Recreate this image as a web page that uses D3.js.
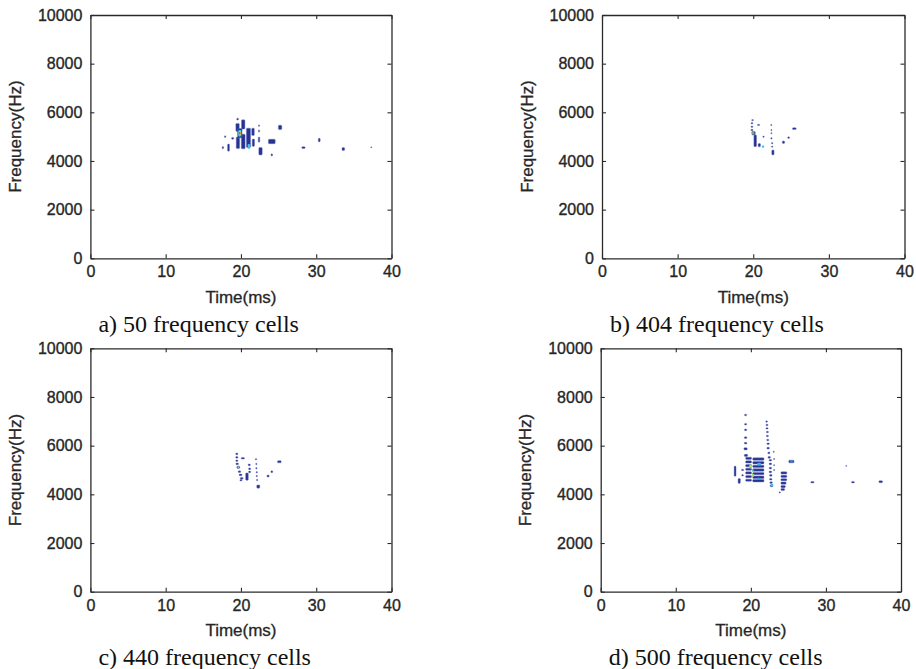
<!DOCTYPE html>
<html>
<head>
<meta charset="utf-8">
<script src="https://cdn.jsdelivr.net/npm/d3@7"></script>
<style>
  html, body { margin: 0; padding: 0; background: #fff; }
  svg { display: block; }
</style>
</head>
<body>
<svg id="chart" width="916" height="669"></svg>
<script>
// ---------------- data ----------------
const xTickValues = [0, 10, 20, 30, 40];
const yTickValues = [0, 2000, 4000, 6000, 8000, 10000];
const timeDomain = [0, 40];          // ms
const freqDomain = [0, 10000];       // Hz
const xLabel = "Time(ms)";
const yLabel = "Frequency(Hz)";
const captions = [
  "a) 50 frequency cells",
  "b) 404 frequency cells",
  "c) 440 frequency cells",
  "d) 500 frequency cells"
];

// spectrogram cells: [time ms, frequency Hz, duration ms, bandwidth Hz, level 0..1]
const cellsA = [
  [19.56, 5720, 0.25, 80, 0],
  [19.55, 5380, 0.45, 330, 0], [19.6, 4750, 0.45, 480, 0],
  [20.3, 5500, 0.45, 380, 0], [20.3, 4800, 0.5, 600, 0],
  [21.0, 4950, 0.55, 800, 0],
  [19.85, 5140, 0.6, 380, 0], [19.85, 5140, 0.42, 260, 0.35], [19.85, 5140, 0.28, 170, 0.62], [19.85, 5140, 0.16, 100, 0.95],
  [21.05, 4600, 0.32, 200, 0.35],
  [21.6, 5200, 0.35, 300, 0], [21.65, 4750, 0.3, 300, 0],
  [22.4, 5450, 0.15, 70, 0], [22.4, 5230, 0.15, 100, 0], [22.4, 4880, 0.2, 220, 0],
  [22.6, 4400, 0.45, 300, 0], [24.1, 4800, 0.9, 180, 0], [24.1, 4250, 0.2, 100, 0],
  [25.2, 5380, 0.45, 180, 0], [17.9, 5000, 0.2, 80, 0], [18.9, 4930, 0.3, 80, 0],
  [17.6, 4550, 0.2, 100, 0], [18.35, 4550, 0.25, 300, 0], [28.3, 4550, 0.45, 70, 0],
  [30.4, 4860, 0.25, 150, 0], [33.6, 4490, 0.35, 120, 0], [37.3, 4560, 0.12, 60, 0]
];
const cellsB = [
  [19.91, 5680, 0.25, 60, 0], [19.83, 5550, 0.25, 60, 0], [19.83, 5410, 0.25, 60, 0],
  [19.83, 5270, 0.3, 60, 0], [20.04, 5140, 0.45, 150, 0], [20.0, 5140, 0.3, 110, 0.5],
  [20.0, 5150, 0.18, 70, 0.9], [20.26, 4830, 0.35, 480, 0], [20.7, 5480, 0.3, 50, 0],
  [20.8, 4650, 0.3, 140, 0], [21.3, 4590, 0.3, 90, 0.35], [21.36, 5000, 0.2, 60, 0],
  [22.38, 5480, 0.15, 60, 0], [22.4, 5270, 0.15, 60, 0], [22.4, 5140, 0.15, 60, 0],
  [22.4, 4930, 0.2, 60, 0], [22.5, 4730, 0.2, 60, 0], [22.5, 4590, 0.2, 60, 0],
  [22.6, 4350, 0.3, 200, 0], [24.0, 4770, 0.3, 100, 0], [24.68, 4960, 0.25, 70, 0],
  [25.43, 5330, 0.5, 70, 0]
];
const cellsC = [
  [19.45, 5660, 0.3, 70, 0], [19.45, 5520, 0.3, 70, 0], [19.45, 5380, 0.3, 70, 0],
  [19.5, 5250, 0.35, 70, 0], [19.65, 5110, 0.4, 90, 0], [19.65, 5110, 0.25, 70, 0.55],
  [19.8, 4930, 0.35, 70, 0], [19.95, 4800, 0.4, 70, 0], [20.1, 4660, 0.4, 70, 0],
  [20.0, 4580, 0.3, 60, 0], [20.25, 5480, 0.45, 60, 0], [20.8, 4730, 0.35, 300, 0],
  [21.1, 5210, 0.3, 70, 0], [21.15, 5050, 0.3, 70, 0], [21.15, 4920, 0.3, 70, 0],
  [22.0, 5440, 0.2, 60, 0], [22.05, 5250, 0.2, 60, 0], [22.05, 5070, 0.2, 60, 0],
  [22.1, 4910, 0.2, 60, 0], [22.1, 4750, 0.2, 60, 0], [22.15, 4590, 0.2, 60, 0],
  [22.3, 4320, 0.4, 130, 0], [23.6, 4750, 0.3, 80, 0], [24.1, 4930, 0.25, 80, 0],
  [25.1, 5340, 0.5, 90, 0]
];
const cellsD = [
  [19.3, 7260, 0.3, 70, 0], [19.3, 6880, 0.3, 70, 0], [19.3, 6650, 0.3, 70, 0],
  [19.3, 6330, 0.35, 70, 0], [19.3, 6100, 0.35, 70, 0], [19.3, 5870, 0.45, 90, 0],
  [19.35, 5600, 0.45, 90, 0],
  [22.1, 6990, 0.25, 60, 0], [22.15, 6850, 0.3, 60, 0], [22.15, 6710, 0.3, 60, 0],
  [22.2, 6560, 0.3, 60, 0], [22.2, 6400, 0.3, 60, 0], [22.25, 6230, 0.3, 60, 0],
  [22.3, 6080, 0.35, 60, 0], [22.3, 5900, 0.35, 70, 0], [22.4, 5700, 0.3, 70, 0],
  [22.45, 5520, 0.35, 70, 0],
  [17.9, 4950, 0.25, 420, 0], [18.45, 4550, 0.3, 200, 0], [18.9, 5000, 0.3, 60, 0],
  [18.9, 4780, 0.25, 60, 0],
  [19.7, 5480, 0.8, 90, 0], [19.7, 5330, 0.8, 90, 0], [19.7, 5180, 0.8, 90, 0],
  [19.7, 5030, 0.8, 90, 0], [19.7, 4880, 0.8, 90, 0], [19.7, 4730, 0.8, 90, 0],
  [19.7, 4580, 0.8, 90, 0],
  [21.0, 5450, 1.5, 100, 0], [21.0, 5300, 1.5, 100, 0], [21.0, 5150, 1.5, 100, 0],
  [21.0, 5000, 1.5, 100, 0], [21.0, 4850, 1.5, 100, 0], [21.0, 4700, 1.5, 100, 0],
  [21.0, 4560, 1.5, 100, 0],
  [19.95, 5150, 0.35, 150, 0.45], [20.0, 5150, 0.2, 90, 0.62], [20.3, 4780, 0.3, 120, 0.55],
  [20.25, 4980, 0.25, 100, 0.4], [21.1, 5250, 0.5, 100, 0.33], [21.0, 4650, 0.3, 80, 0.3],
  [22.6, 5400, 0.35, 70, 0], [22.6, 5250, 0.35, 70, 0], [22.6, 5080, 0.35, 70, 0],
  [22.6, 4920, 0.35, 70, 0], [22.65, 4780, 0.35, 70, 0], [22.65, 4620, 0.35, 70, 0],
  [22.7, 4480, 0.35, 70, 0], [22.75, 4350, 0.4, 70, 0], [22.8, 4380, 0.4, 80, 0.35],
  [23.05, 5750, 0.15, 60, 0], [23.1, 5450, 0.15, 60, 0], [23.1, 5200, 0.15, 60, 0],
  [23.1, 5000, 0.15, 60, 0],
  [24.4, 4880, 0.8, 90, 0], [24.4, 4740, 0.8, 90, 0], [24.4, 4600, 0.8, 90, 0],
  [24.35, 4460, 0.7, 90, 0], [24.3, 4320, 0.6, 90, 0], [24.25, 4200, 0.5, 80, 0],
  [23.85, 4080, 0.2, 60, 0],
  [25.4, 5350, 0.7, 110, 0], [25.4, 5370, 0.45, 70, 0.3],
  [28.2, 4500, 0.45, 60, 0], [32.7, 5170, 0.12, 60, 0], [33.6, 4500, 0.4, 60, 0],
  [37.3, 4520, 0.5, 80, 0]
];
const panelCells = [cellsA, cellsB, cellsC, cellsD];

// ---------------- layout ----------------
const frames = [
  { x0: 90.4,  x1: 391.5, y0: 15,    y1: 258.3 },
  { x0: 602,   x1: 904.5, y0: 15,    y1: 258.3 },
  { x0: 90.4,  x1: 391.5, y0: 348.3, y1: 591.7 },
  { x0: 600.7, x1: 901,   y0: 348.3, y1: 591.7 }
];

const colour = d3.scaleLinear()
  .domain([0, 0.2, 0.35, 0.5, 0.65, 0.85, 1])
  .range(["#26328f", "#2050c8", "#38c4e6", "#86dc6a", "#f2e23a", "#ee5a26", "#b81e1e"]);

const svg = d3.select("#chart");
svg.append("rect").attr("width", 916).attr("height", 669).attr("fill", "#fff");

const sansFont = "'Liberation Sans', Arial, sans-serif";
const serifFont = "'Liberation Serif', 'Times New Roman', serif";
const textInk = "#262626";

frames.forEach((fr, i) => {
  const x = d3.scaleLinear().domain(timeDomain).range([fr.x0, fr.x1]);
  const y = d3.scaleLinear().domain(freqDomain).range([fr.y1, fr.y0]);
  const g = svg.append("g");

  // cells
  const cells = panelCells[i].slice().sort((a, b) => a[4] - b[4]);
  g.append("g").selectAll("rect").data(cells).join("rect")
    .attr("x", d => x(d[0] - d[2] / 2))
    .attr("width", d => Math.max(1, x(d[0] + d[2] / 2) - x(d[0] - d[2] / 2)))
    .attr("y", d => y(d[1] + d[3] / 2))
    .attr("height", d => Math.max(1, y(d[1] - d[3] / 2) - y(d[1] + d[3] / 2)))
    .attr("rx", 0.8)
    .attr("fill", d => colour(d[4]))
    .attr("stroke", d => d[4] === 0 ? "#6a74c2" : "none")
    .attr("stroke-width", 0.6)
    .attr("stroke-opacity", 0.7);

  const styleAxis = sel => {
    sel.select(".domain").attr("stroke", "#2a2a2a").attr("stroke-width", 1.3);
    sel.selectAll(".tick line").attr("stroke", "#2a2a2a").attr("stroke-width", 1.1);
    sel.selectAll("text").attr("font-family", sansFont).attr("font-size", 16)
      .attr("fill", textInk).attr("stroke", textInk).attr("stroke-width", 0.35);
  };

  // bottom axis
  g.append("g").attr("transform", `translate(0,${fr.y1})`)
    .call(d3.axisBottom(x).tickValues(xTickValues).tickFormat(d3.format("d"))
      .tickSizeInner(-4).tickSizeOuter(0).tickPadding(7.5))
    .call(styleAxis);
  // top axis (ticks only)
  g.append("g").attr("transform", `translate(0,${fr.y0})`)
    .call(d3.axisTop(x).tickValues(xTickValues).tickSizeInner(-4).tickSizeOuter(0).tickFormat(""))
    .call(styleAxis);
  // left axis
  g.append("g").attr("transform", `translate(${fr.x0},0)`)
    .call(d3.axisLeft(y).tickValues(yTickValues).tickFormat(d3.format("d"))
      .tickSizeInner(-4).tickSizeOuter(0).tickPadding(8))
    .call(styleAxis);
  // right axis (ticks only)
  g.append("g").attr("transform", `translate(${fr.x1},0)`)
    .call(d3.axisRight(y).tickValues(yTickValues).tickSizeInner(-4).tickSizeOuter(0).tickFormat(""))
    .call(styleAxis);

  // axis titles
  g.append("text")
    .attr("x", (fr.x0 + fr.x1) / 2).attr("y", fr.y1 + 44.7)
    .attr("text-anchor", "middle")
    .attr("font-family", sansFont).attr("font-size", 17)
    .attr("fill", textInk).attr("stroke", textInk).attr("stroke-width", 0.3)
    .text(xLabel);
  g.append("text")
    .attr("transform", `translate(${fr.x0 - 69.4},${(fr.y0 + fr.y1) / 2}) rotate(-90)`)
    .attr("text-anchor", "middle")
    .attr("font-family", sansFont).attr("font-size", 17)
    .attr("fill", textInk).attr("stroke", textInk).attr("stroke-width", 0.3)
    .text(yLabel);

  // caption
  g.append("text")
    .attr("x", fr.x0 + 8).attr("y", fr.y1 + 73.7)
    .attr("font-family", serifFont).attr("font-size", 24).attr("fill", "#111")
    .text(captions[i]);
});
</script>
</body>
</html>
